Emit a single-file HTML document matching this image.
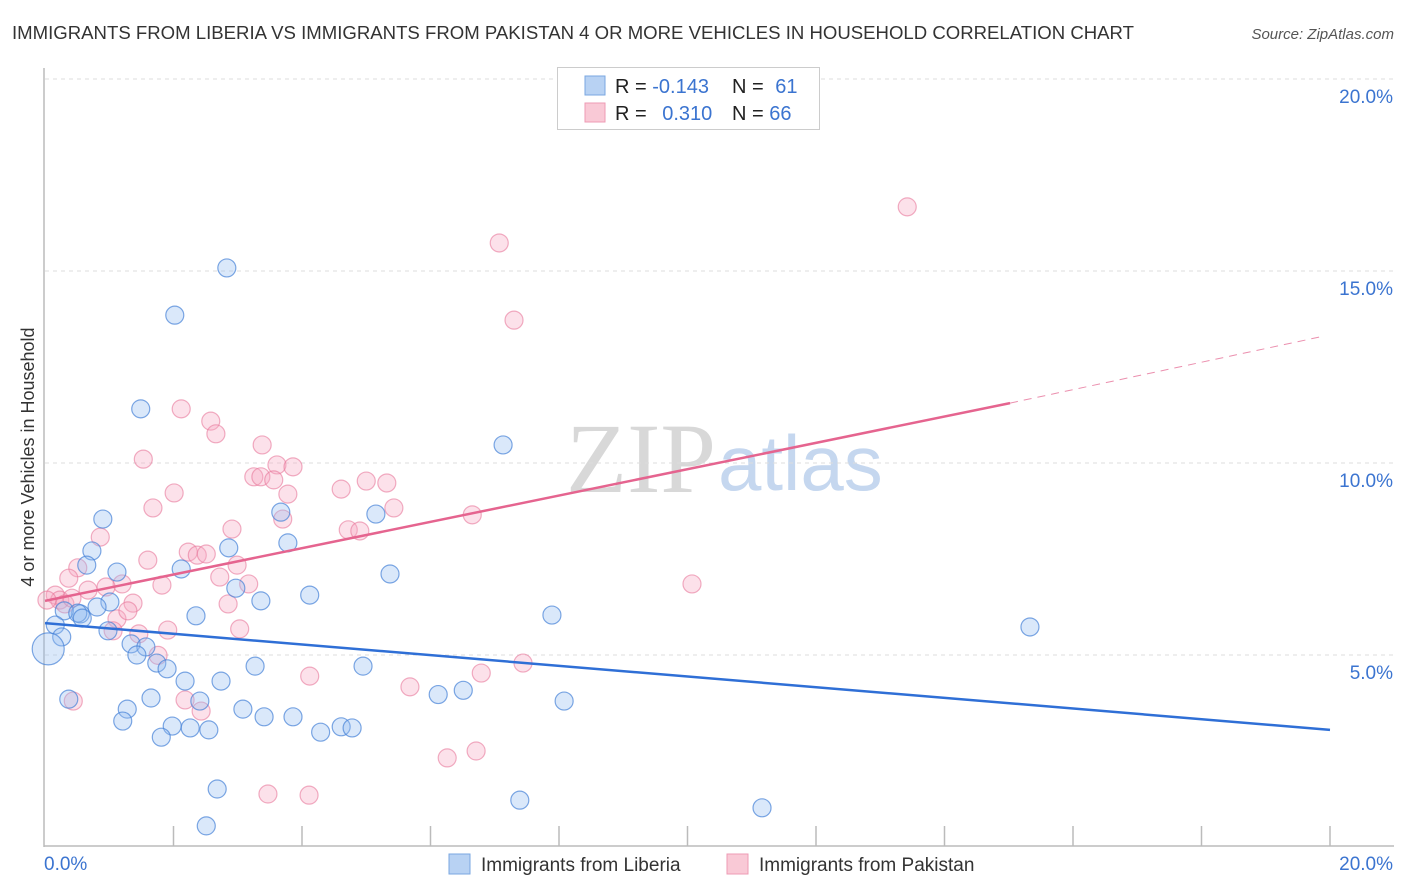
<!DOCTYPE html>
<html><head><meta charset="utf-8"><style>
body{margin:0;background:#fff;font-family:"Liberation Sans",sans-serif;}
#wrap{position:relative;width:1406px;height:892px;overflow:hidden;}
</style></head><body>
<div id="wrap">
<svg id="svg" width="1406" height="892" xmlns="http://www.w3.org/2000/svg">
<text x="12" y="39" font-size="18.6" fill="#333" textLength="1122" lengthAdjust="spacingAndGlyphs">IMMIGRANTS FROM LIBERIA VS IMMIGRANTS FROM PAKISTAN 4 OR MORE VEHICLES IN HOUSEHOLD CORRELATION CHART</text>
<text x="1394" y="39" font-size="15" fill="#555" font-style="italic" text-anchor="end">Source: ZipAtlas.com</text>
<text x="0" y="0" transform="translate(34,457) rotate(-90)" font-size="18" fill="#333" text-anchor="middle">4 or more Vehicles in Household</text>
<text x="716" y="492" font-size="100" fill="#d8d8d8" text-anchor="end" font-family="Liberation Serif,serif">ZIP</text>
<text x="718" y="490" font-size="78" fill="#c5d7ef">atlas</text>
<g id="grid"></g><g id="marks"></g><g id="lines"></g>
<g>
<rect x="557.5" y="67.5" width="262" height="62" fill="#fff" stroke="#ccc"/>
<rect x="585" y="76" width="20" height="19" fill="#b8d2f3" stroke="#7aa7e0"/>
<rect x="585" y="103" width="20" height="19" fill="#f9c9d6" stroke="#ee9bb4"/>
<text x="615" y="93" font-size="20" fill="#222">R = <tspan fill="#3b74d0">-0.143</tspan></text>
<text x="732" y="93" font-size="20" fill="#222">N = <tspan fill="#3b74d0" dx="6">61</tspan></text>
<text x="615" y="120" font-size="20" fill="#222">R = <tspan fill="#3b74d0" dx="10">0.310</tspan></text>
<text x="732" y="120" font-size="20" fill="#222">N = <tspan fill="#3b74d0">66</tspan></text>
</g>
<g>
<rect x="449" y="854" width="21" height="20" fill="#b8d2f3" stroke="#7aa7e0"/>
<text x="481" y="871" font-size="19" fill="#333">Immigrants from Liberia</text>
<rect x="727" y="854" width="21" height="20" fill="#f9c9d6" stroke="#ee9bb4"/>
<text x="759" y="871" font-size="19" fill="#333">Immigrants from Pakistan</text>
</g>
</svg></div>
<script>
const yTicks=[5,10,15,20];
const yTickLabels=["5.0%","10.0%","15.0%","20.0%"];
const xTickLabels=["0.0%","20.0%"];
const liberiaX=[2.83,2.02,1.49,7.13,0.90,3.67,5.15,3.78,0.73,2.86,1.12,5.37,2.12,2.97,3.36,4.12,0.65,1.01,0.81,0.55,0.30,0.51,0.58,0.16,0.26,0.05,0.98,1.34,1.57,1.43,1.74,1.90,2.35,7.89,15.33,3.27,4.95,2.18,2.74,0.37,1.65,2.41,1.28,3.08,6.12,6.51,8.08,1.21,3.41,3.86,1.98,2.26,2.55,4.61,4.78,1.81,4.29,2.68,2.51,7.39,11.16];
const liberiaY=[15.08,13.85,11.41,10.47,8.54,8.72,8.67,7.92,7.71,7.79,7.16,7.11,7.24,6.74,6.41,6.56,7.34,6.38,6.25,6.07,6.15,6.09,5.96,5.78,5.47,5.16,5.63,5.29,5.21,5.00,4.79,4.64,6.02,6.04,5.73,4.71,4.71,4.32,4.32,3.85,3.88,3.80,3.59,3.59,3.97,4.08,3.80,3.28,3.39,3.39,3.15,3.10,3.05,3.13,3.10,2.86,2.99,1.51,0.55,1.22,1.02];
const pakistanX=[13.42,7.07,7.30,2.12,2.58,2.66,1.53,3.38,3.61,3.86,3.25,3.36,3.56,3.78,2.01,1.68,4.61,5.00,5.32,5.43,3.70,6.65,2.91,4.72,4.90,0.86,2.23,2.37,2.51,1.60,0.51,1.20,1.82,2.72,2.99,3.17,0.37,0.67,0.95,0.16,0.23,0.03,0.31,0.42,1.37,2.85,1.12,1.29,1.06,1.46,1.91,3.03,1.76,10.07,7.44,4.12,6.79,5.68,0.44,2.18,2.43,6.26,6.71,3.47,4.11];
const pakistanY=[16.67,15.73,13.72,11.41,11.09,10.76,10.10,10.47,9.95,9.90,9.64,9.64,9.56,9.19,9.22,8.83,9.32,9.53,9.48,8.83,8.54,8.65,8.28,8.26,8.23,8.07,7.68,7.60,7.63,7.47,7.27,6.85,6.82,7.03,7.34,6.85,7.00,6.69,6.77,6.56,6.43,6.43,6.33,6.48,6.35,6.33,5.94,6.15,5.63,5.55,5.65,5.68,4.99,6.85,4.79,4.45,4.53,4.17,3.80,3.83,3.54,2.32,2.50,1.38,1.35];
const liberiaTrend=[[0,5.83],[20,3.05]];
const pakistanTrendSolid=[[0,6.41],[15.02,11.56]];
const pakistanTrendDash=[[15.02,11.56],[19.92,13.31]];
const X0=45,X1=1330,Y0=847,PPY=38.4;
const sx=v=>X0+v/20*(X1-X0);
const sy=v=>Y0-v*PPY;
const NS="http://www.w3.org/2000/svg";
function mk(tag,attrs,parent){const e=document.createElementNS(NS,tag);for(const k in attrs)e.setAttribute(k,attrs[k]);parent.appendChild(e);return e;}
const grid=document.getElementById('grid');
yTicks.forEach((t,i)=>{
 const l=mk('line',{x1:X0,x2:1394,y1:sy(t),y2:sy(t),stroke:'#ddd','stroke-dasharray':'4,4'},grid);
 
 
 const tx=mk('text',{x:1393,y:sy(t)+24,'font-size':19,fill:'#3b74d0','text-anchor':'end'},grid);
 tx.textContent=yTickLabels[i];
 
 
});
const ax=mk('line',{x1:44,x2:44,y1:68,y2:847,stroke:'#bbb','stroke-width':1.5},grid);


const bx=mk('line',{x1:44,x2:1394,y1:846,y2:846,stroke:'#bbb','stroke-width':1.5},grid);


for(let i=1;i<=10;i++){
 const t=mk('line',{x1:sx(i*2),x2:sx(i*2),y1:826,y2:846,stroke:'#bbb','stroke-width':1.5},grid);
 
 
}
[[0,44,'start'],[20,1393,'end']].forEach((d,i)=>{
 const tx=mk('text',{x:d[1],y:870,'font-size':19,fill:'#3b74d0','text-anchor':d[2]},grid);
 tx.textContent=xTickLabels[i];
 
 
});
const marks=document.getElementById('marks');
function pts(xs,ys,fill,stroke,name,big){
 xs.forEach((x,i)=>{
  const r=(big&&x<0.1)?16:9;
  const c=mk('circle',{cx:sx(x),cy:sy(ys[i]),r:r,fill:fill,stroke:stroke,'stroke-width':1.2},marks);
  
  
 });
}
pts(pakistanX,pakistanY,'rgba(246,170,194,0.35)','rgba(232,120,155,0.6)','pakistan-point',false);
pts(liberiaX,liberiaY,'rgba(150,190,240,0.35)','rgba(70,130,215,0.7)','liberia-point',true);
const lines=document.getElementById('lines');
function ln(p,color,dash,name){
 const a={x1:sx(p[0][0]),y1:sy(p[0][1]),x2:sx(p[1][0]),y2:sy(p[1][1]),stroke:color,'stroke-width':dash?1:2.5};
 if(dash)a['stroke-dasharray']='8,6';
 const l=mk('line',a,lines);
 
 
}
ln(liberiaTrend,'#2f6fd6',false,'liberia-trend-line');
ln(pakistanTrendSolid,'#e5648f',false,'pakistan-trend-line');
ln(pakistanTrendDash,'#eb8fae',true,'pakistan-trend-extension');
</script>
</body></html>
